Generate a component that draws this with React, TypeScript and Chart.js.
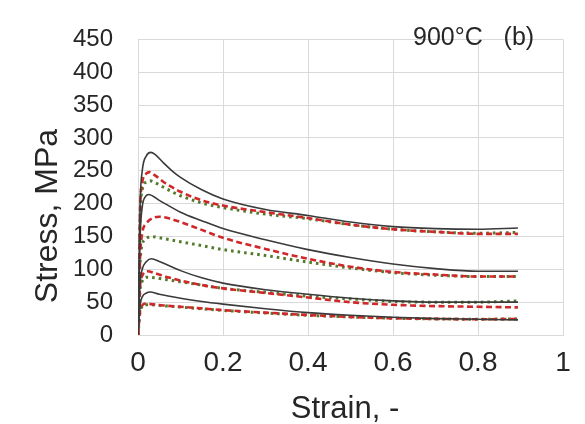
import React, { useEffect, useRef } from "react";
import { Chart, registerables } from "chart.js";

Chart.register(...registerables);

// ---- axis ticks & labels ----
const xTickLabels = ["0", "0.2", "0.4", "0.6", "0.8", "1"];
const yTickLabels = ["0", "50", "100", "150", "200", "250", "300", "350", "400", "450"];
const xTitle = "Strain, -";
const yTitle = "Stress, MPa";
const panelLabel = "900°C   (b)";

// ---- group 1 (highest) ----
const g1ExpStrain = [0, 0.005, 0.01, 0.02, 0.03, 0.04, 0.06, 0.08, 0.1, 0.15, 0.2, 0.3, 0.4, 0.5, 0.6, 0.7, 0.8, 0.894];
const g1ExpStress = [0, 200, 250, 273, 278, 275, 262, 250, 240, 221, 207, 191, 182, 172, 165, 162, 161, 163];
const g1RedStrain = [0, 0.005, 0.01, 0.02, 0.027, 0.04, 0.06, 0.08, 0.1, 0.15, 0.2, 0.3, 0.4, 0.5, 0.6, 0.7, 0.8, 0.894];
const g1RedStress = [0, 190, 232, 246, 248, 243, 233, 225, 218, 205, 197, 187, 178, 168, 161, 157, 154, 154];
const g1GrnStrain = [0, 0.005, 0.01, 0.02, 0.028, 0.04, 0.06, 0.08, 0.1, 0.15, 0.2, 0.3, 0.4, 0.5, 0.6, 0.7, 0.8, 0.894];
const g1GrnStress = [0, 180, 222, 233, 235, 232, 225, 218, 212, 201, 194, 184, 177, 168, 161, 157, 155, 156];

// ---- group 2 ----
const g2ExpStrain = [0, 0.005, 0.01, 0.018, 0.025, 0.05, 0.1, 0.15, 0.2, 0.3, 0.4, 0.5, 0.6, 0.7, 0.8, 0.894];
const g2ExpStress = [0, 150, 195, 211, 214, 205, 187, 174, 162, 145, 130, 118, 108, 101, 97, 97];
const g2RedStrain = [0, 0.005, 0.01, 0.02, 0.035, 0.05, 0.07, 0.1, 0.15, 0.2, 0.3, 0.4, 0.5, 0.6, 0.7, 0.8, 0.894];
const g2RedStress = [0, 120, 155, 170, 178, 180, 178, 172, 160, 148, 131, 116, 104, 96, 92, 89, 89];
const g2GrnStrain = [0, 0.005, 0.01, 0.02, 0.03, 0.05, 0.1, 0.15, 0.2, 0.3, 0.4, 0.5, 0.6, 0.7, 0.8, 0.894];
const g2GrnStress = [0, 110, 138, 147, 150, 148, 142, 136, 130, 121, 111, 102, 95, 91, 89, 89];

// ---- group 3 ----
const g3ExpStrain = [0, 0.005, 0.01, 0.02, 0.032, 0.05, 0.1, 0.15, 0.2, 0.3, 0.4, 0.5, 0.6, 0.7, 0.8, 0.894];
const g3ExpStress = [0, 80, 100, 112, 116, 112, 98, 87, 79, 69, 62, 56, 52, 50, 50, 50];
const g3RedStrain = [0, 0.005, 0.01, 0.022, 0.04, 0.07, 0.1, 0.15, 0.2, 0.3, 0.4, 0.5, 0.6, 0.7, 0.8, 0.894];
const g3RedStress = [0, 75, 90, 97, 94, 88, 83, 76, 71, 64, 57, 50, 46, 44, 43, 42];
const g3GrnStrain = [0, 0.005, 0.01, 0.02, 0.04, 0.07, 0.1, 0.15, 0.2, 0.3, 0.4, 0.5, 0.6, 0.7, 0.8, 0.894];
const g3GrnStress = [0, 70, 82, 88, 87, 84, 81, 76, 71, 65, 59, 55, 51, 50, 50, 52];

// ---- group 4 (lowest) ----
const g4ExpStrain = [0, 0.005, 0.01, 0.02, 0.028, 0.05, 0.1, 0.15, 0.2, 0.3, 0.4, 0.5, 0.6, 0.7, 0.8, 0.894];
const g4ExpStress = [0, 45, 58, 64, 65.5, 62, 56, 51, 47, 40, 34, 30, 27, 25, 24, 23];
const g4RedStrain = [0, 0.005, 0.01, 0.015, 0.03, 0.06, 0.1, 0.15, 0.2, 0.3, 0.4, 0.5, 0.6, 0.7, 0.8, 0.894];
const g4RedStress = [0, 38, 45, 47.5, 47, 45, 43, 40.5, 38, 34, 30.5, 27.5, 25.5, 24.5, 24, 24.5];
const g4GrnStrain = [0, 0.005, 0.01, 0.015, 0.03, 0.06, 0.1, 0.15, 0.2, 0.3, 0.4, 0.5, 0.6, 0.7, 0.8, 0.894];
const g4GrnStress = [0, 36, 43, 46, 46, 44.5, 42.5, 40, 37.5, 33.5, 30, 27.5, 25.5, 24.5, 24, 24.5];

const FONT = '"Liberation Sans", Arial, Helvetica, sans-serif';
const TEXT = "#262626";
const GRID = "#d9d9d9";
const BLACK = "#3a3a3a";
const RED = "#d0282a";
const GREEN = "#527a2c";

const pts = (xs: number[], ys: number[]) => xs.map((x, i) => ({ x, y: ys[i] }));

const expStyle = { borderColor: BLACK, borderWidth: 1.6, borderDash: [] as number[] };
const redStyle = { borderColor: RED, borderWidth: 2.6, borderDash: [6, 3.5] };
const grnStyle = { borderColor: GREEN, borderWidth: 3, borderDash: [2.6, 4] };

const textPlugin = {
  id: "panelTexts",
  afterDraw(chart: any) {
    const ctx = chart.ctx as CanvasRenderingContext2D;
    ctx.save();
    ctx.fillStyle = TEXT;
    ctx.textBaseline = "alphabetic";
    // x title
    ctx.font = `31px ${FONT}`;
    ctx.textAlign = "center";
    ctx.fillText(xTitle, 345, 418);
    // y title
    ctx.save();
    ctx.font = `32px ${FONT}`;
    ctx.translate(57, 216);
    ctx.rotate(-Math.PI / 2);
    ctx.fillText(yTitle, 0, 0);
    ctx.restore();
    // panel label
    ctx.font = `25px ${FONT}`;
    ctx.textAlign = "left";
    ctx.fillText(panelLabel, 413, 45);
    ctx.restore();
  },
};

export default function App() {
  const ref = useRef<HTMLCanvasElement | null>(null);

  useEffect(() => {
    if (!ref.current) return;
    const mk = (label: string, xs: number[], ys: number[], style: any) => ({
      label,
      data: pts(xs, ys),
      ...style,
      pointRadius: 0,
      fill: false,
      cubicInterpolationMode: "monotone",
      borderCapStyle: "butt",
    });
    const chart = new Chart(ref.current, {
      type: "line",
      data: {
        datasets: [
          mk("g1 exp", g1ExpStrain, g1ExpStress, expStyle),
          mk("g2 exp", g2ExpStrain, g2ExpStress, expStyle),
          mk("g3 exp", g3ExpStrain, g3ExpStress, expStyle),
          mk("g4 exp", g4ExpStrain, g4ExpStress, expStyle),
          mk("g1 red", g1RedStrain, g1RedStress, redStyle),
          mk("g2 red", g2RedStrain, g2RedStress, redStyle),
          mk("g3 red", g3RedStrain, g3RedStress, redStyle),
          mk("g4 red", g4RedStrain, g4RedStress, redStyle),
          mk("g1 grn", g1GrnStrain, g1GrnStress, grnStyle),
          mk("g2 grn", g2GrnStrain, g2GrnStress, grnStyle),
          mk("g3 grn", g3GrnStrain, g3GrnStress, grnStyle),
          mk("g4 grn", g4GrnStrain, g4GrnStress, grnStyle),
        ] as any,
      },
      options: {
        responsive: false,
        animation: false,
        devicePixelRatio: 1,
        layout: { padding: { top: 19, right: 22, left: 0, bottom: 0 } },
        plugins: { legend: { display: false }, tooltip: { enabled: false } },
        scales: {
          x: {
            type: "linear",
            min: 0,
            max: 1,
            afterFit: (s: any) => { s.height = 89; },
            grid: { color: GRID, lineWidth: 1, drawTicks: false },
            border: { display: true, color: GRID },
            ticks: {
              stepSize: 0.2,
              autoSkip: false,
              maxRotation: 0,
              padding: 11,
              color: TEXT,
              font: { family: FONT, size: 28 },
              callback: (_v: any, i: number) => xTickLabels[i],
            },
          },
          y: {
            type: "linear",
            min: 0,
            max: 450,
            afterFit: (s: any) => { s.width = 138; },
            grid: { color: GRID, lineWidth: 1, drawTicks: false },
            border: { display: true, color: GRID },
            ticks: {
              stepSize: 50,
              autoSkip: false,
              padding: 25,
              color: TEXT,
              font: { family: FONT, size: 24 },
              callback: (_v: any, i: number) => yTickLabels[i],
            },
          },
        },
      } as any,
      plugins: [textPlugin],
    });
    return () => chart.destroy();
  }, []);

  return (
    <div style={{ position: "absolute", left: 0, top: 0, width: 585, height: 424, background: "#fff" }}>
      <canvas ref={ref} width={585} height={424} style={{ display: "block" }} />
    </div>
  );
}
